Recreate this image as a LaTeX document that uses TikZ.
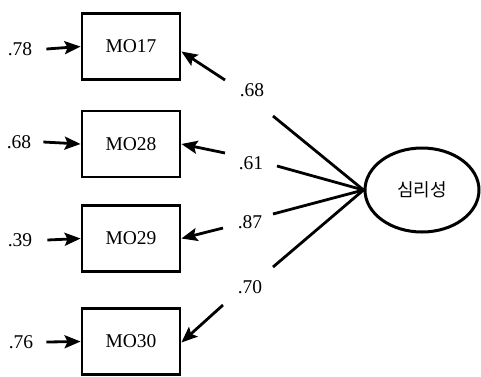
\documentclass[tikz,border=0pt]{standalone}
\usepackage{fontspec}
\setmainfont{Liberation Serif}
\newfontfamily\krfont{Noto Sans CJK KR}
\usetikzlibrary{shapes.geometric,arrows.meta,calc}
\tikzset{
  obs/.style={draw, line width=2.8pt, minimum width=98pt, minimum height=66pt, inner sep=0pt, font=\fontsize{19.5}{21}\selectfont},
  lat/.style={draw, ellipse, line width=3pt, minimum width=114pt, minimum height=84pt, inner sep=0pt, font=\krfont\fontsize{18}{20}\selectfont},
  lbl/.style={inner sep=0pt, font=\fontsize{19.5}{21}\selectfont},
  arr/.style={line width=2.8pt, -{Stealth[length=16pt,width=13pt,inset=3pt]}},
  ln/.style={line width=2.8pt}
}
\begin{document}
\begin{tikzpicture}[x=1pt,y=-1pt]
\useasboundingbox (0,0) rectangle (481,376);
% observed boxes
\node[obs] (m17) at (131,46.5) {MO17};
\node[obs] (m28) at (131,144) {MO28};
\node[obs] (m29) at (131,238.5) {MO29};
\node[obs] (m30) at (131,341.5) {MO30};
% latent
\node[lat] (f) at (422,190) {심리성};
% error labels
\node[lbl] (e17) at (20,49) {.78};
\node[lbl] (e28) at (19,142) {.68};
\node[lbl] (e29) at (20,240) {.39};
\node[lbl] (e30) at (21,342) {.76};
\draw[arr] ([xshift=14pt]e17.east) -- (m17.west);
\draw[arr] ([xshift=12pt]e28.east) -- (m28.west);
\draw[arr] ([xshift=15pt]e29.east) -- (m29.west);
\draw[arr] ([xshift=13pt]e30.east) -- (m30.west);
% loading labels
\node[lbl] (l17) at (252,90) {.68};
\node[lbl] (l28) at (251,163) {.61};
\node[lbl] (l29) at (250,222) {.87};
\node[lbl] (l30) at (250,287) {.70};
% line ends near labels
\coordinate (s17) at (273,116);
\coordinate (s28) at (277,166);
\coordinate (s29) at (273,214);
\coordinate (s30) at (273,267);
\coordinate (a17) at (225,80);
\coordinate (a28) at (225,153);
\coordinate (a29) at (223,228);
\coordinate (a30) at (223,305);
\draw[ln] (f.west) -- (s17);
\draw[ln] (f.west) -- (s28);
\draw[ln] (f.west) -- (s29);
\draw[ln] (f.west) -- (s30);
\draw[arr] (a17) -- ($(m17.east)+(0,5)$);
\draw[arr] (a28) -- (m28.east);
\draw[arr] (a29) -- (m29.east);
\draw[arr] (a30) -- ($(m30.east)+(0,1)$);
\end{tikzpicture}
\end{document}
